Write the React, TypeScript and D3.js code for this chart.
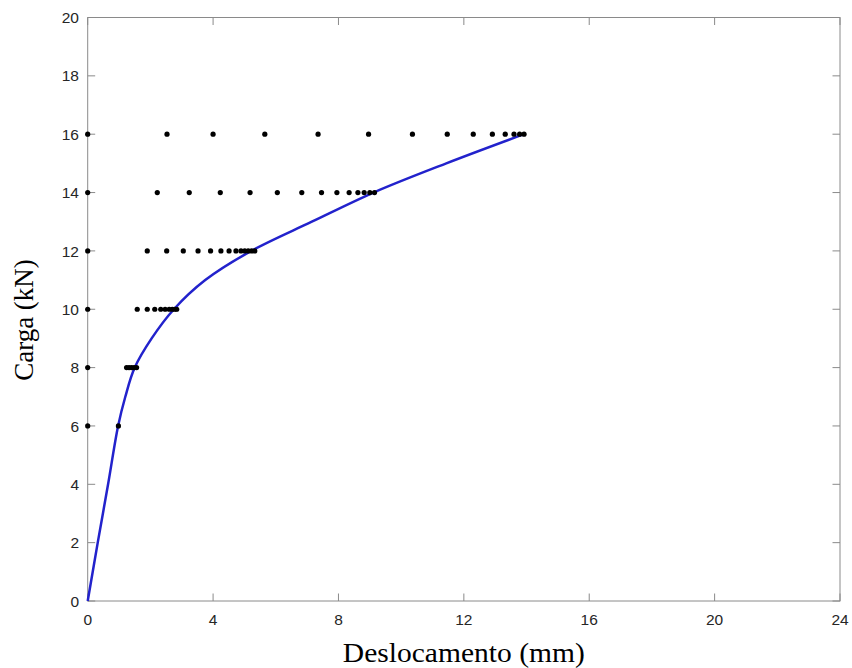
import React from "react";
import * as d3 from "d3";

const xTicks = [0, 4, 8, 12, 16, 20, 24];
const yTicks = [0, 2, 4, 6, 8, 10, 12, 14, 16, 18, 20];

// fitted curve (displacement mm, load kN)
const curveDisp = [0, 0.32, 0.65, 0.97, 1.2, 1.5, 2.04, 2.75, 3.75, 5.22, 7.15, 9.12, 11.44, 13.92];
const curveLoad = [0, 2, 4, 6, 7, 8, 9, 10, 11, 12, 13, 14, 15, 16];

// measured points per load level
const loadLevels = [6, 8, 10, 12, 14, 16];
const disp6 = [0, 0.98];
const disp8 = [0, 1.24, 1.32, 1.40, 1.48, 1.56];
const disp10 = [0, 1.58, 1.90, 2.14, 2.33, 2.47, 2.60, 2.70, 2.78, 2.84];
const disp12 = [0, 1.90, 2.52, 3.05, 3.52, 3.92, 4.25, 4.51, 4.73, 4.89, 5.01, 5.12, 5.23, 5.33];
const disp14 = [0, 2.22, 3.24, 4.23, 5.18, 6.05, 6.83, 7.46, 7.95, 8.34, 8.62, 8.82, 9.0, 9.15];
const disp16 = [0, 2.53, 4.0, 5.65, 7.35, 8.96, 10.36, 11.47, 12.30, 12.91, 13.32, 13.60, 13.78, 13.92];
const dispRows = [disp6, disp8, disp10, disp12, disp14, disp16];

export default function App() {
  const W = 852, H = 668;
  const left = 87.7, right = 840, top = 17.5, bottom = 601;
  const x = d3.scaleLinear().domain([0, 24]).range([left, right]);
  const y = d3.scaleLinear().domain([0, 20]).range([bottom, top]);
  const axisColor = "#8a8a8a";
  const textColor = "#262626";

  const line = d3
    .line<number>()
    .x((_, i) => x(curveDisp[i]))
    .y((d) => y(d))
    .curve(d3.curveCatmullRom.alpha(0.5));

  const points: { d: number; l: number }[] = [];
  dispRows.forEach((row, ri) => row.forEach((d) => points.push({ d, l: loadLevels[ri] })));

  return (
    <svg width={W} height={H} style={{ position: "absolute", left: 0, top: 0, background: "#fff" }}>
      <rect x={0} y={0} width={W} height={H} fill="#fff" />
      <rect x={left} y={top} width={right - left} height={bottom - top} fill="none" stroke={axisColor} strokeWidth={1} />
      {xTicks.map((t) => (
        <g key={"x" + t}>
          <line x1={x(t)} x2={x(t)} y1={bottom} y2={bottom - 7.5} stroke={axisColor} />
          <line x1={x(t)} x2={x(t)} y1={top} y2={top + 7.5} stroke={axisColor} />
          <text x={x(t)} y={625} textAnchor="middle" fontFamily="Liberation Sans, Arial, sans-serif" fontSize={15.5} fill={textColor}>
            {t}
          </text>
        </g>
      ))}
      {yTicks.map((t) => (
        <g key={"y" + t}>
          <line x1={left} x2={left + 7.5} y1={y(t)} y2={y(t)} stroke={axisColor} />
          <line x1={right} x2={right - 7.5} y1={y(t)} y2={y(t)} stroke={axisColor} />
          <text x={79} y={y(t) + 5.6} textAnchor="end" fontFamily="Liberation Sans, Arial, sans-serif" fontSize={15.5} fill={textColor}>
            {t}
          </text>
        </g>
      ))}
      <path d={line(curveLoad) || ""} fill="none" stroke="#2222cc" strokeWidth={2.5} />
      {points.map((p, i) => (
        <circle key={i} cx={x(p.d)} cy={y(p.l)} r={2.6} fill="#000" />
      ))}
      <text
        x={(left + right) / 2}
        y={662}
        textAnchor="middle"
        fontFamily="Liberation Serif, Times New Roman, serif"
        fontSize={27}
        fill="#000"
        textLength={242}
        lengthAdjust="spacingAndGlyphs"
      >
        Deslocamento (mm)
      </text>
      <text
        transform={`translate(33,320) rotate(-90)`}
        textAnchor="middle"
        fontFamily="Liberation Serif, Times New Roman, serif"
        fontSize={27}
        fill="#000"
      >
        Carga (kN)
      </text>
    </svg>
  );
}
